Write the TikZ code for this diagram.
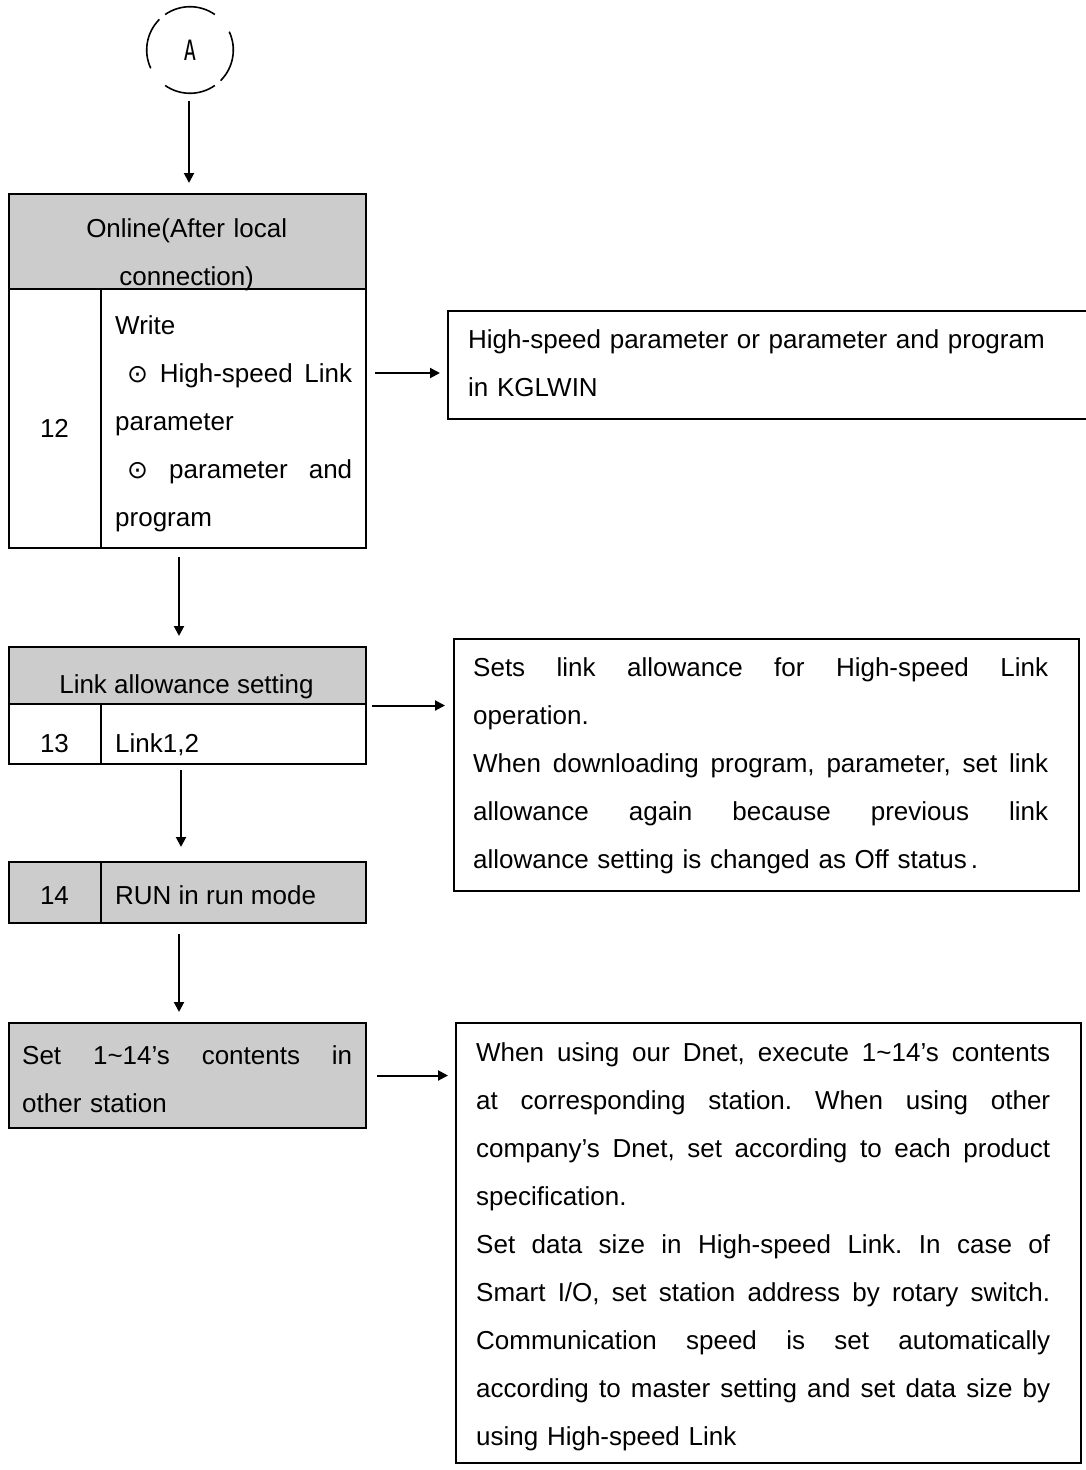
\documentclass[tikz,border=0pt]{standalone}
\usepackage{fontspec}
\usepackage{graphicx}
\setmainfont{Liberation Sans}
\newfontfamily\dejavu{DejaVu Sans}
\newfontfamily\monoA{DejaVu Sans Mono}
\usetikzlibrary{arrows.meta}
\definecolor{boxgray}{RGB}{204,204,204}
\frenchspacing
\newcommand{\jl}[2]{\leavevmode\hbox to #1{\frenchspacing\spaceskip=0.278em plus 1fil\relax #2}}
\newcommand{\circdot}{{\dejavu\fontsize{25}{48}\selectfont ⊙}}
\begin{document}
\begin{tikzpicture}[x=1pt,y=-1pt,
  box/.style={draw, line width=2pt, inner sep=0pt, anchor=north west},
  txt/.style={inner sep=0pt, font=\fontsize{26}{48}\selectfont\frenchspacing},
  arr/.style={line width=2pt, -{Triangle[length=10pt,width=10pt]}},
  ln/.style={line width=2pt}]
\useasboundingbox (0,0) rectangle (1086,1470);
\fill[white] (0,0) rectangle (1086,1470);

% connector circle A
\node[circle, minimum size=87pt, inner sep=0pt] (A) at (190,50)
  {\monoA\fontsize{28}{30}\selectfont\scalebox{0.72}[1]{A}};
\foreach \a in {55,135,235,315}{
  \draw[line width=1.6pt] (A.center) ++(\a:43.3pt) arc[start angle=\a, end angle=\a+70, radius=43.3pt];
}

% box 1
\fill[boxgray] (8,193) rectangle (365,289);
\node[box, minimum width=357pt, minimum height=354pt] (b1) at (8,193) {};
\draw[ln] (8,289) -- (365,289);
\draw[ln] (101,289) -- (101,547);
\node[txt, anchor=base west, text width=357pt, align=center] (t1h) at (8,237)
  {Online(After local\\connection)};
\node[txt, anchor=base] (t1n) at (54.5,437) {12};
\node[txt, anchor=base west, text width=237pt, align=left] (t1b) at (115,334)
  {Write\\
   \jl{237pt}{\hspace*{12pt}\circdot\ High-speed Link}\\
   parameter\\
   \jl{237pt}{\hspace*{12pt}\circdot\ parameter and}\\
   program};

% right box 1
\node[box, minimum width=643pt, minimum height=108pt] (r1) at (447,310) {};
\node[txt, anchor=base west, text width=600pt, align=left] (tr1) at (468,348)
  {High-speed parameter or parameter and program\\in KGLWIN};

% box 2
\fill[boxgray] (8,646) rectangle (365,704);
\node[box, minimum width=357pt, minimum height=117pt] (b2) at (8,646) {};
\draw[ln] (8,704) -- (365,704);
\draw[ln] (101,704) -- (101,763);
\node[txt, anchor=base] (t2h) at (186.5,693) {Link allowance setting};
\node[txt, anchor=base] (t2n) at (54.5,752) {13};
\node[txt, anchor=base west] (t2b) at (115,752) {Link1,2};

% right box 2
\node[box, minimum width=625pt, minimum height=252pt] (r2) at (453,638) {};
\node[txt, anchor=base west, text width=575pt, align=left] (tr2) at (473,676)
  {\jl{575pt}{Sets link allowance for High-speed Link}\\
   operation.\\
   \jl{575pt}{When downloading program, parameter, set link}\\
   \jl{575pt}{allowance again because previous link}\\
   allowance setting is changed as Off status\hspace{4pt}.};

% box 3
\fill[boxgray] (8,861) rectangle (365,922);
\node[box, minimum width=357pt, minimum height=61pt] (b3) at (8,861) {};
\draw[ln] (101,861) -- (101,922);
\node[txt, anchor=base] (t3n) at (54.5,904) {14};
\node[txt, anchor=base west] (t3b) at (115,904) {RUN in run mode};

% box 4
\fill[boxgray] (8,1022) rectangle (365,1127);
\node[box, minimum width=357pt, minimum height=105pt] (b4) at (8,1022) {};
\node[txt, anchor=base west, text width=330pt, align=left] (t4) at (22,1064)
  {\jl{330pt}{Set 1\textasciitilde 14’s contents in}\\other station};

% right box 4
\node[box, minimum width=625pt, minimum height=440pt] (r4) at (455,1022) {};
\node[txt, anchor=base west, text width=574pt, align=left] (tr4) at (476,1061)
  {\jl{574pt}{When using our Dnet, execute 1\textasciitilde 14’s contents}\\
   \jl{574pt}{at corresponding station. When using other}\\
   \jl{574pt}{company’s Dnet, set according to each product}\\
   specification.\\
   \jl{574pt}{Set data size in High-speed Link. In case of}\\
   \jl{574pt}{Smart I/O, set station address by rotary switch.}\\
   \jl{574pt}{Communication speed is set automatically}\\
   \jl{574pt}{according to master setting and set data size by}\\
   using High-speed Link};

% vertical connectors
\draw[arr, shorten <=7pt, shorten >=10pt] ([xshift=-1pt]A.south) -- ([xshift=-1pt]A.south |- b1.north);
\draw[arr, shorten <=8pt, shorten >=10pt] ([xshift=-8.5pt]b1.south) -- ([xshift=-8.5pt]b2.north);
\draw[arr, shorten <=5pt, shorten >=14pt] ([xshift=-6.5pt]b2.south) -- ([xshift=-6.5pt]b3.north);
\draw[arr, shorten <=10pt, shorten >=10pt] ([xshift=-8.5pt]b3.south) -- ([xshift=-8.5pt]b4.north);

% horizontal connectors
\draw[arr, shorten <=8pt, shorten >=7pt] ([yshift=-2pt]b1.east) -- ([yshift=-2pt]b1.east -| r1.west);
\draw[arr, shorten <=5pt, shorten >=8pt] (b2.east) -- (b2.east -| r2.west);
\draw[arr, shorten <=10pt, shorten >=7pt] (b4.east) -- (b4.east -| r4.west);
\end{tikzpicture}
\end{document}
